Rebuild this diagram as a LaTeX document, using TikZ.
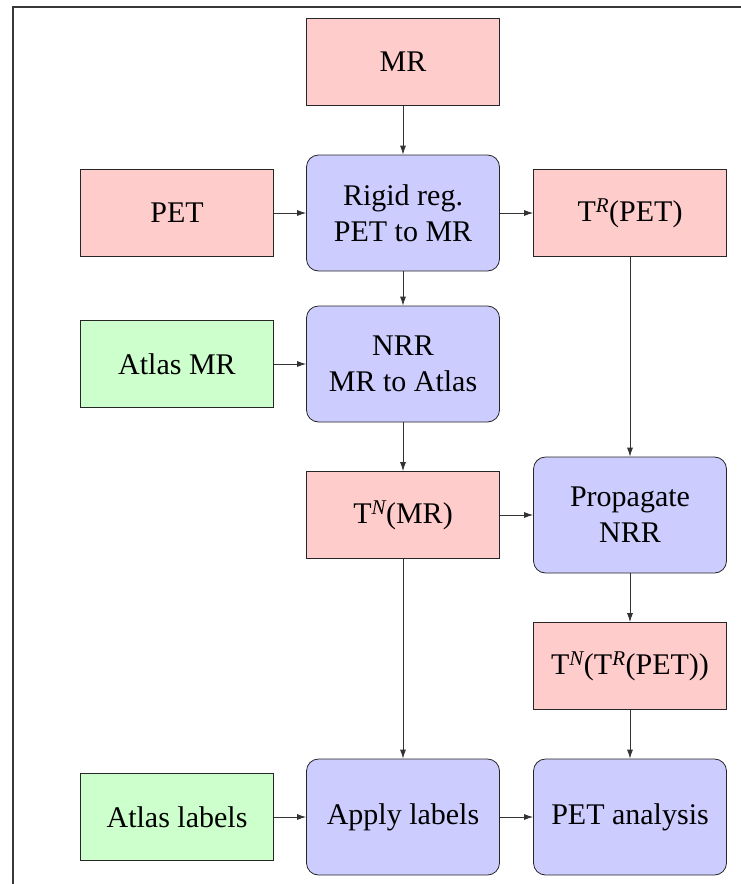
\documentclass[tikz,border=0pt]{standalone}
\usepackage{fontspec}
\setmainfont{Liberation Serif}
\usetikzlibrary{arrows.meta}
\tikzset{
  base/.style={draw=black!85, line width=0.8pt, align=center, inner sep=2pt,
    font=\fontsize{30}{36}\selectfont, anchor=center},
  datapink/.style={base, fill=red!20, minimum width=193pt, minimum height=87pt},
  datagreen/.style={base, fill=green!20, minimum width=193pt, minimum height=87pt},
  procbox/.style={base, fill=blue!20, rounded corners=12pt, minimum width=193pt, minimum height=116pt},
  conn/.style={draw=black!80, line width=0.8pt, -{Latex[length=9pt,width=6pt]}}
}
\newcommand{\supit}[1]{\textsuperscript{\itshape #1}}
\begin{document}
\begin{tikzpicture}[x=1pt,y=-1pt]
\useasboundingbox (0,0) rectangle (741,884);
\draw[black!78, line width=2.2pt] (13,900) -- (13,7) -- (760,7);
\node[datapink] (mr) at (403,62) {MR};
\node[datapink] (pet) at (177,213) {PET};
\node[procbox] (rigid) at (403,213) {Rigid reg.\\PET to MR};
\node[datapink] (tr) at (630,213) {T\supit{R}(PET)};
\node[datagreen] (atlasmr) at (177,364) {Atlas MR};
\node[procbox] (nrr) at (403,364) {NRR\\MR to Atlas};
\node[datapink] (tnmr) at (403,515) {T\supit{N}(MR)};
\node[procbox] (prop) at (630,515) {Propagate\\NRR};
\node[datapink] (tntr) at (630,666) {T\supit{N}(T\supit{R}(PET))};
\node[datagreen] (atlaslab) at (177,817) {Atlas labels};
\node[procbox] (apply) at (403,817) {Apply labels};
\node[procbox] (petan) at (630,817) {PET analysis};
\draw[conn] (mr) -- (rigid);
\draw[conn] (pet) -- (rigid);
\draw[conn] (rigid) -- (tr);
\draw[conn] (rigid) -- (nrr);
\draw[conn] (atlasmr) -- (nrr);
\draw[conn] (nrr) -- (tnmr);
\draw[conn] (tnmr) -- (prop);
\draw[conn] (tr) -- (prop);
\draw[conn] (prop) -- (tntr);
\draw[conn] (tnmr) -- (apply);
\draw[conn] (atlaslab) -- (apply);
\draw[conn] (apply) -- (petan);
\draw[conn] (tntr) -- (petan);
\end{tikzpicture}
\end{document}
